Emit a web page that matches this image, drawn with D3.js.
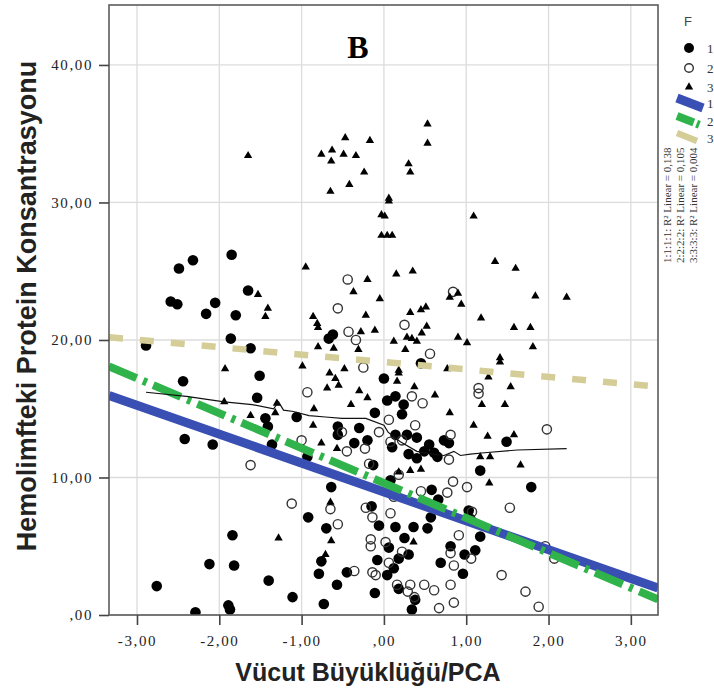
<!DOCTYPE html>
<html><head><meta charset="utf-8">
<script src="https://cdn.jsdelivr.net/npm/d3@7"></script>
<style>
html,body{margin:0;padding:0;background:#fff;}
svg{display:block;}
</style></head>
<body>
<svg id="chart" width="714" height="697"></svg>
<script>
// ---------- data ----------
const xTicks = [-3, -2, -1, 0, 1, 2, 3];
const yTicks = [0, 10, 20, 30, 40];
const groupNames = ["1", "2", "3"];
const r2Labels = ["1:1:1:1: R\u00B2 Linear = 0,138", "2:2:2:2: R\u00B2 Linear = 0,105", "3:3:3:3: R\u00B2 Linear = 0,004"];

// group 1 : filled circles
const group1 = [
 [-2.49,25.2],[-2.32,25.8],[-1.85,26.2],[-2.59,22.8],[-2.51,22.6],[-2.05,22.7],[-2.16,21.9],[-1.80,21.8],[-1.65,23.6],[-1.86,20.1],[-2.89,19.6],[-1.62,19.4],[-0.62,20.4],[-0.67,20.1],
 [-2.44,17.0],[-1.51,17.4],[-1.54,15.8],[-1.44,14.3],[-1.41,13.7],[-1.36,12.4],[-2.42,12.8],[-2.08,12.4],[-1.06,14.4],[-0.93,11.5],[-0.64,9.3],[-0.92,7.1],[-0.70,6.3],[-1.84,5.8],[-2.12,3.7],[-1.82,3.6],[-2.76,2.1],[-1.40,2.5],[-1.11,1.3],[-1.89,0.7],[-1.87,0.4],[-2.29,0.2],[-0.73,0.8],[-0.57,2.2],[-0.79,3.0],[-0.76,3.9],[-0.45,3.1],[-0.11,1.6],[-0.56,13.7],[-0.56,13.1],[-0.36,12.5],[-0.20,12.7],[-0.11,14.7],[-0.13,10.9],[-0.15,7.9],[-0.08,4.0],[-0.06,6.5],
 [1.49,12.6],[1.79,9.3],[1.17,10.5],[0.61,11.8],[0.65,11.5],[0.49,11.9],[0.73,12.7],[0.79,12.5],[0.40,11.4],[0.14,13.1],[0.04,15.6],[0.00,17.2],[0.45,18.3],[1.03,7.6],[1.05,7.0],[1.17,5.7],[1.11,4.7],[0.98,4.4],[0.96,3.0],[0.81,5.0],[0.69,3.8],[0.53,6.3],[0.36,6.4],[0.25,5.6],[0.14,6.4],[0.06,4.9],[0.18,4.1],[0.30,4.4],[0.12,3.4],[0.04,2.9],[0.18,1.9],[0.34,0.4],[0.38,1.1],[0.57,7.1],[0.14,15.9],[0.24,15.3],[0.28,13.1],[0.40,12.9],
 [0.22,14.6],[0.10,12.2],[0.55,12.4],[-0.30,13.6],[0.30,11.7],[0.08,9.8],[0.58,9.1],[0.66,8.4]
];
// group 2 : open circles
const group2 = [
 [-0.44,24.4],[-0.56,22.3],[-0.43,20.6],[-0.34,20.0],
 [0.84,23.5],[0.25,21.1],[0.56,19.0],
 [-0.25,18.0],[-0.93,16.2],[-1.00,12.7],[-1.62,10.9],[-1.12,8.1],[-0.65,7.7],[-0.56,6.6],[-0.45,11.9],[-0.51,13.3],[-0.23,12.1],[-0.18,11.0],[-0.06,13.3],[-0.22,7.8],[-0.14,7.1],[-0.16,5.5],[-0.16,5.0],[-0.36,3.2],[-0.14,3.1],[-0.10,2.9],
 [1.98,13.5],[1.15,16.1],[1.15,16.5],[0.47,15.4],[0.34,15.9],[0.06,14.2],[0.38,13.8],[0.81,13.1],[0.79,11.3],[0.84,9.7],[0.77,8.9],[1.01,9.3],[1.53,7.8],[1.07,7.5],[0.91,5.8],[0.81,4.5],[0.85,3.6],[1.06,4.1],[1.43,2.9],[0.81,2.2],[0.61,1.8],[0.49,2.2],[0.32,2.2],[0.29,1.7],[0.67,0.5],[0.85,0.9],[1.72,1.7],[1.88,0.6],[1.96,5.0],[2.07,4.1],[0.08,7.4],[0.02,5.3],[0.06,3.8],[0.22,4.6],[0.16,2.2],[0.22,12.7],[0.08,12.6],[0.37,1.3],
 [0.18,10.2],[0.45,9.0],[0.12,8.6]
];
// group 3 : triangles
const group3 = [
 [-1.65,33.4],[-0.47,34.7],[-0.17,34.5],[-0.76,33.5],[-0.63,33.8],[-0.64,33.0],[-0.49,33.5],[-0.34,33.4],[-0.24,32.2],[-0.42,31.3],[-0.65,30.8],[-0.03,29.1],[-0.03,27.6],[-0.95,25.3],[-0.20,24.4],[-0.37,23.5],[-0.05,23.0],[-0.22,21.8],[-0.11,20.7],[-1.53,23.3],[-1.41,22.3],[-1.44,21.7],[-0.86,21.7],[-0.81,21.2],[-0.80,20.9],[-0.28,20.6],[-0.80,19.5],[-0.61,19.4],[-0.31,19.3],
 [0.53,35.7],[0.53,34.3],[0.30,32.8],[0.32,32.2],[0.06,30.3],[0.06,30.1],[0.01,29.0],[0.04,27.6],[0.10,27.6],[1.09,29.0],[0.15,24.8],[0.35,25.0],[1.35,25.7],[1.60,25.2],[1.84,23.2],[2.22,23.1],[0.80,23.1],[0.90,23.4],[0.94,22.6],[0.32,22.0],[0.45,22.2],[0.51,22.4],[0.52,21.0],[0.46,20.5],[0.28,20.2],[0.34,20.1],[0.40,19.9],[0.12,19.9],[0.26,19.3],[0.90,20.2],[1.01,19.8],[1.18,21.6],[1.58,20.9],[1.78,20.9],[1.81,19.5],[1.41,18.7],
 [-1.93,17.9],[-0.99,18.1],[-0.66,17.6],[-0.48,17.9],[-0.59,17.2],[-0.55,16.7],[-0.69,16.5],[-1.94,15.5],[-1.30,15.4],[-1.62,14.5],[-1.32,14.7],[-0.85,15.0],[-0.86,13.8],[-0.40,15.3],[-0.76,12.5],[-0.57,12.1],[-0.65,8.2],[-0.64,5.4],[-1.28,5.6],[-0.71,4.4],
 [1.41,18.4],[1.27,17.3],[1.54,16.6],[1.47,15.3],[1.19,15.3],[0.80,14.7],[1.09,13.8],[1.26,13.0],[1.58,13.1],[1.17,11.5],[1.29,11.5],[1.66,10.9],[1.28,9.6],[0.18,10.4],[0.32,10.5],[0.45,10.6],[0.37,16.6],[0.18,17.6],[0.16,17.0],[0.77,17.9],[0.36,5.3],[0.18,17.8],
 [-0.30,16.3],[0.62,16.0],[-0.20,15.8]
];
// thin overall fit line
const totalFit = [
 [-2.89,16.2],[-2.4,15.9],[-1.94,15.5],[-1.6,15.3],[-1.34,15.0],[-1.28,15.5],[-1.22,14.9],[-1.1,14.8],[-0.91,14.5],[-0.71,14.4],[-0.51,14.3],[-0.22,14.3],[0.0,13.8],[0.05,13.3],[0.2,12.6],[0.4,11.9],[0.6,11.7],[0.73,11.6],[0.85,11.9],[0.93,11.6],[1.05,11.7],[1.22,11.8],[1.62,12.0],[2.22,12.1]
];
// group linear fits: values at left and right edge of the x range
const fitLeft  = [15.96, 18.08, 20.2];
const fitRight = [1.96, 1.14, 16.6];

// ---------- drawing ----------
const svg = d3.select("#chart");
const x = d3.scaleLinear().domain([-3.34, 3.33]).range([109, 658]);
const y = d3.scaleLinear().domain([0, 44.36]).range([615, 5]);
const fmt = v => (v === 0 ? "" : String(v)) + ",00";

// grid
svg.append("g").selectAll("line").data(xTicks).join("line")
  .attr("x1", d => x(d)).attr("x2", d => x(d)).attr("y1", y.range()[1]).attr("y2", y.range()[0])
  .attr("stroke", "#dcdcdc").attr("stroke-width", 1.3);
svg.append("g").selectAll("line").data(yTicks).join("line")
  .attr("y1", d => y(d)).attr("y2", d => y(d)).attr("x1", x.range()[0]).attr("x2", x.range()[1])
  .attr("stroke", "#dcdcdc").attr("stroke-width", 1.3);

// clip
svg.append("clipPath").attr("id", "clip").append("rect")
  .attr("x", 109).attr("y", 5).attr("width", 549).attr("height", 610);

const plot = svg.append("g").attr("clip-path", "url(#clip)");

// points
plot.append("g").selectAll("circle").data(group1).join("circle")
  .attr("cx", d => x(d[0])).attr("cy", d => y(d[1])).attr("r", 5.3).attr("fill", "#000");
plot.append("g").selectAll("circle").data(group2).join("circle")
  .attr("cx", d => x(d[0])).attr("cy", d => y(d[1])).attr("r", 4.6)
  .attr("fill", "none").attr("stroke", "#333").attr("stroke-width", 1.4);
const tri = d3.symbol().type(d3.symbolTriangle).size(30);
plot.append("g").selectAll("path").data(group3).join("path")
  .attr("d", tri).attr("transform", d => `translate(${x(d[0])},${y(d[1])})`).attr("fill", "#000");

// fit lines
const xd = x.domain();
const fitStyles = [
  {color: "#3a4fb3", width: 9, dash: null},
  {color: "#2fb34a", width: 8, dash: "30,7,4,7"},
  {color: "#d5cd97", width: 6.5, dash: "14,17"}
];
[2, 0, 1].forEach(i => {
  plot.append("line")
    .attr("x1", x(xd[0])).attr("y1", y(fitLeft[i]))
    .attr("x2", x(xd[1])).attr("y2", y(fitRight[i]))
    .attr("stroke", fitStyles[i].color).attr("stroke-width", fitStyles[i].width)
    .attr("stroke-dasharray", fitStyles[i].dash);
});
plot.append("path").datum(totalFit)
  .attr("d", d3.line().x(d => x(d[0])).y(d => y(d[1])))
  .attr("fill", "none").attr("stroke", "#111").attr("stroke-width", 1.2);

// frame
svg.append("rect").attr("x", 109).attr("y", 5).attr("width", 549).attr("height", 610)
  .attr("fill", "none").attr("stroke", "#5c5c5c").attr("stroke-width", 1.6);

// axes
const xAxis = svg.append("g").attr("transform", "translate(0,615)")
  .call(d3.axisBottom(x).tickValues(xTicks).tickFormat(fmt).tickSize(10).tickPadding(10));
const yAxis = svg.append("g").attr("transform", "translate(109,0)")
  .call(d3.axisLeft(y).tickValues(yTicks).tickFormat(fmt).tickSize(10).tickPadding(6));
[xAxis, yAxis].forEach(a => {
  a.select(".domain").remove();
  a.selectAll(".tick line").attr("stroke", "#444").attr("stroke-width", 1.6);
  a.selectAll(".tick text").attr("fill", "#222")
    .style("font-family", "'Liberation Serif', 'Times New Roman', serif")
    .style("font-size", "15px").style("letter-spacing", "1.6px");
});

// titles
svg.append("text").attr("x", 368).attr("y", 681).attr("text-anchor", "middle")
  .style("font-family", "'Liberation Sans', Arial, sans-serif").style("font-weight", "bold")
  .style("font-size", "25px").attr("fill", "#222").text("Vücut Büyüklüğü/PCA");
svg.append("text").attr("transform", "translate(36,306) rotate(-90)").attr("text-anchor", "middle")
  .style("font-family", "'Liberation Sans', Arial, sans-serif").style("font-weight", "bold")
  .style("font-size", "27px").attr("fill", "#222").text("Hemolimfteki Protein Konsantrasyonu");
svg.append("text").attr("x", 358).attr("y", 58).attr("text-anchor", "middle")
  .style("font-family", "'Liberation Serif', 'Times New Roman', serif").style("font-weight", "bold")
  .style("font-size", "32px").attr("fill", "#000").text("B");

// legend
const lg = svg.append("g");
lg.append("text").attr("x", 688).attr("y", 26).attr("text-anchor", "middle")
  .style("font-family", "'Liberation Sans', Arial, sans-serif").style("font-size", "13px").attr("fill", "#444").text("F");
const legY = [48, 68, 87];
lg.append("circle").attr("cx", 689).attr("cy", legY[0]).attr("r", 5).attr("fill", "#000");
lg.append("circle").attr("cx", 689).attr("cy", legY[1]).attr("r", 4.3).attr("fill", "none").attr("stroke", "#333").attr("stroke-width", 1.4);
lg.append("path").attr("d", tri).attr("transform", `translate(689,${legY[2]})`).attr("fill", "#000");
const lineY = [103, 121, 138];
[0, 1, 2].forEach(i => {
  lg.append("line").attr("x1", 677).attr("y1", lineY[i] - 5).attr("x2", 703 - i * 3).attr("y2", lineY[i] + 5 - i)
    .attr("stroke", fitStyles[i].color).attr("stroke-width", fitStyles[i].width)
    .attr("stroke-dasharray", i === 1 ? "18,3,3,3" : null);
});
lg.selectAll("text.lab").data(legY.concat(lineY)).join("text").attr("class", "lab")
  .attr("x", 707).attr("y", d => d + 5)
  .style("font-family", "'Liberation Serif', serif").style("font-size", "13px").attr("fill", "#333")
  .text((d, i) => groupNames[i % 3]);
lg.selectAll("text.r2").data(r2Labels).join("text").attr("class", "r2")
  .attr("transform", (d, i) => `translate(${671 + i * 13},263) rotate(-90)`)
  .style("font-family", "'Liberation Serif', serif").style("font-size", "11px").attr("fill", "#333")
  .text(d => d);
</script>
</body></html>
